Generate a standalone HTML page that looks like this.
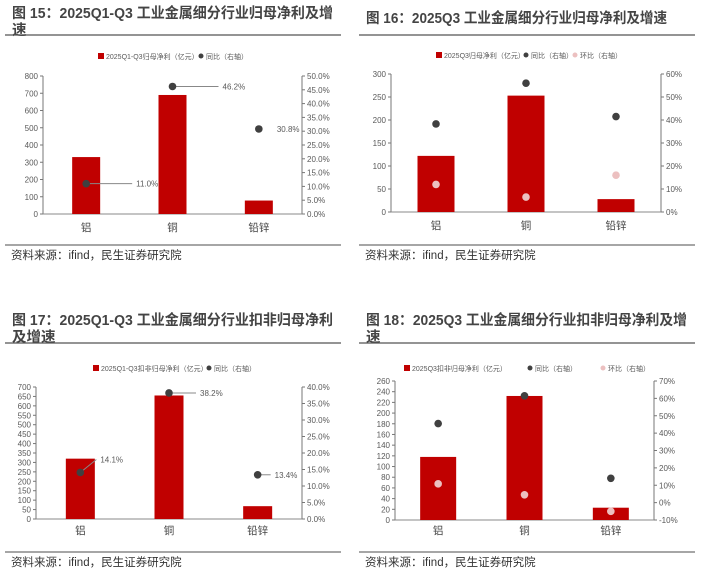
<!DOCTYPE html>
<html><head><meta charset="utf-8">
<style>
body{margin:0;background:#fff;}
svg{display:block;font-family:"Liberation Sans","Noto Sans CJK SC",sans-serif;}
</style></head>
<body>
<svg id="s" width="708" height="572" viewBox="0 0 708 572" xmlns="http://www.w3.org/2000/svg"></svg>
<script>
const categories = ["铝","铜","铅锌"];
const c1Bars = [330, 690, 78];
const c1Yoy = [11.0, 46.2, 30.8];
const c1LeftTicks = [0,100,200,300,400,500,600,700,800];
const c1RightTicks = [0,5,10,15,20,25,30,35,40,45,50];
const c2Bars = [122, 253, 28];
const c2Yoy = [38.3, 56, 41.5];
const c2Qoq = [12, 6.5, 16];
const c2LeftTicks = [0,50,100,150,200,250,300];
const c2RightTicks = [0,10,20,30,40,50,60];
const c3Bars = [320, 655, 68];
const c3Yoy = [14.1, 38.2, 13.4];
const c3LeftTicks = [0,50,100,150,200,250,300,350,400,450,500,550,600,650,700];
const c3RightTicks = [0,5,10,15,20,25,30,35,40];
const c4Bars = [118, 232, 23];
const c4Yoy = [45.5, 61.5, 14];
const c4Qoq = [10.8, 4.5, -5];
const c4LeftTicks = [0,20,40,60,80,100,120,140,160,180,200,220,240,260];
const c4RightTicks = [-10,0,10,20,30,40,50,60,70];

const S = document.getElementById('s');
const NS = 'http://www.w3.org/2000/svg';
function el(tag, attrs, text){
  const e = document.createElementNS(NS, tag);
  for (const k in attrs) e.setAttribute(k, attrs[k]);
  if (text !== undefined) e.textContent = text;
  S.appendChild(e);
  return e;
}
function txt(x,y,t,size,anchor,fill,weight){
  return el('text',{x:x,y:y,'font-size':size,'text-anchor':anchor||'start',fill:fill||'#595959','font-weight':weight||'normal'},t);
}

function chart(cfg){
  cfg.titles.forEach((t,i)=>{
    const e = txt(cfg.ox+12, cfg.titleY + i*17, t, 14.5, 'start', '#444', 'bold');
    if (cfg.titleLen[i]) { e.setAttribute('textLength', cfg.titleLen[i]); e.setAttribute('lengthAdjust','spacingAndGlyphs'); }
    
    
  });
  const sep = el('line',{x1:cfg.ox+5,x2:cfg.ox+341,y1:cfg.sepY,y2:cfg.sepY,stroke:'#555','stroke-width':1.2});
  
  
  const bot = el('line',{x1:cfg.ox+5,x2:cfg.ox+341,y1:cfg.botY,y2:cfg.botY,stroke:'#888','stroke-width':1.5});
  
  
  const src = txt(cfg.ox+11, cfg.botY+14, '资料来源：ifind，民生证券研究院', 11.5, 'start', '#333');
  
  

  const lmin = cfg.lt[0], lmax = cfg.lt[cfg.lt.length-1];
  const rmin = cfg.rt[0], rmax = cfg.rt[cfg.rt.length-1];
  const yL = v => cfg.y0 - (v - lmin)/(lmax - lmin)*(cfg.y0 - cfg.y1);
  const yR = v => cfg.y0 - (v - rmin)/(rmax - rmin)*(cfg.y0 - cfg.y1);
  const band = (cfg.xr - cfg.xl)/categories.length;
  const xC = i => cfg.xl + band*(i+0.5);

  const la = el('line',{x1:cfg.xl,x2:cfg.xl,y1:cfg.y1,y2:cfg.y0,stroke:'#777','stroke-width':1});
  
  
  const ra = el('line',{x1:cfg.xr,x2:cfg.xr,y1:cfg.y1,y2:cfg.y0,stroke:'#777','stroke-width':1});
  
  
  const xa = el('line',{x1:cfg.xl,x2:cfg.xr,y1:cfg.y0,y2:cfg.y0,stroke:'#888','stroke-width':1});
  
  

  cfg.lt.forEach(v=>{
    const y = yL(v);
    el('line',{x1:cfg.xl-3,x2:cfg.xl,y1:y,y2:y,stroke:'#777'});
    const t = txt(cfg.xl-5, y+3, String(v), 8, 'end');
    
    
  });
  cfg.rt.forEach(v=>{
    const y = yR(v);
    el('line',{x1:cfg.xr,x2:cfg.xr+3,y1:y,y2:y,stroke:'#777'});
    const t = txt(cfg.xr+5, y+3, cfg.rdec ? v.toFixed(1)+'%' : v+'%', 8, 'start');
    
    
  });

  categories.forEach((c,i)=>{
    const t = txt(xC(i), cfg.catY, c, 10.5, 'middle', '#444');
    
    
  });

  cfg.bars.forEach((v,i)=>{
    const y = yL(v);
    const b = el('rect',{x:xC(i)-cfg.bw/2,y:y,width:cfg.bw,height:cfg.y0-y,fill:'#c00000'});
    
    
  });

  if (cfg.qoq) cfg.qoq.forEach((v,i)=>{
    const d = el('circle',{cx:xC(i),cy:yR(v),r:3.8,fill:'#ecc0c0'});
    
    
  });
  cfg.yoy.forEach((v,i)=>{
    const cx = xC(i), cy = yR(v);
    if (cfg.labels){
      const L = cfg.labels[i];
      if (L.lead){
        el('line',{x1:cx,y1:cy,x2:cx+L.dx-4,y2:cy+L.dy,stroke:'#888','stroke-width':1});
      }
      const t = txt(cx+L.dx, cy+L.dy+3, v.toFixed(1)+'%', 8, 'start', '#595959');
      
      
    }
    const d = el('circle',{cx:cx,cy:cy,r:3.8,fill:'#404040'});
    
    
  });

  cfg.legend.forEach(L=>{
    if (L.type==='rect'){
      const r = el('rect',{x:L.x,y:cfg.legY-4,width:6,height:6,fill:'#c00000'});
      
      
    } else {
      const r = el('circle',{cx:L.x+3,cy:cfg.legY-1,r:2.5,fill:L.color});
      
      
    }
    const t = txt(L.x+8, cfg.legY+2, L.text, 7, 'start', '#595959');
    
    
  });
}

chart({ox:0,titles:['图 15：2025Q1-Q3 工业金属细分行业归母净利及增','速'],titleLen:[321,0],titleY:18,sepY:35,botY:245,
  y0:214,y1:76,xl:43,xr:302,lt:c1LeftTicks,rt:c1RightTicks,rdec:true,bars:c1Bars,yoy:c1Yoy,bw:28,catY:231,
  labels:[{dx:50,dy:0,lead:true},{dx:50,dy:0,lead:true},{dx:18,dy:0,lead:false}],
  legY:57,legend:[{type:'rect',x:98,text:'2025Q1-Q3归母净利（亿元）'},{type:'dot',x:198,color:'#404040',text:'同比（右轴）'}]});

chart({ox:354,titles:['图 16：2025Q3 工业金属细分行业归母净利及增速'],titleLen:[301],titleY:23,sepY:35,botY:245,
  y0:212,y1:74,xl:391,xr:661,lt:c2LeftTicks,rt:c2RightTicks,rdec:false,bars:c2Bars,yoy:c2Yoy,qoq:c2Qoq,bw:37,catY:229,
  legY:56,legend:[{type:'rect',x:436,text:'2025Q3归母净利（亿元）'},{type:'dot',x:523,color:'#404040',text:'同比（右轴）'},{type:'dot',x:572,color:'#ecc0c0',text:'环比（右轴）'}]});

chart({ox:0,titles:['图 17：2025Q1-Q3 工业金属细分行业扣非归母净利','及增速'],titleLen:[321,0],titleY:325,sepY:343,botY:552,
  y0:519,y1:387,xl:36,xr:302,lt:c3LeftTicks,rt:c3RightTicks,rdec:true,bars:c3Bars,yoy:c3Yoy,bw:29,catY:534,
  labels:[{dx:20,dy:-13,lead:true},{dx:31,dy:0,lead:true},{dx:17,dy:0,lead:true}],
  legY:369,legend:[{type:'rect',x:93,text:'2025Q1-Q3扣非归母净利（亿元）'},{type:'dot',x:206,color:'#404040',text:'同比（右轴）'}]});

chart({ox:354,titles:['图 18：2025Q3 工业金属细分行业扣非归母净利及增','速'],titleLen:[321,0],titleY:325,sepY:343,botY:552,
  y0:520,y1:381,xl:395,xr:654,lt:c4LeftTicks,rt:c4RightTicks,rdec:false,bars:c4Bars,yoy:c4Yoy,qoq:c4Qoq,bw:36,catY:534,
  legY:369,legend:[{type:'rect',x:404,text:'2025Q3扣非归母净利（亿元）'},{type:'dot',x:527,color:'#404040',text:'同比（右轴）'},{type:'dot',x:600,color:'#ecc0c0',text:'环比（右轴）'}]});
</script>
</body></html>
